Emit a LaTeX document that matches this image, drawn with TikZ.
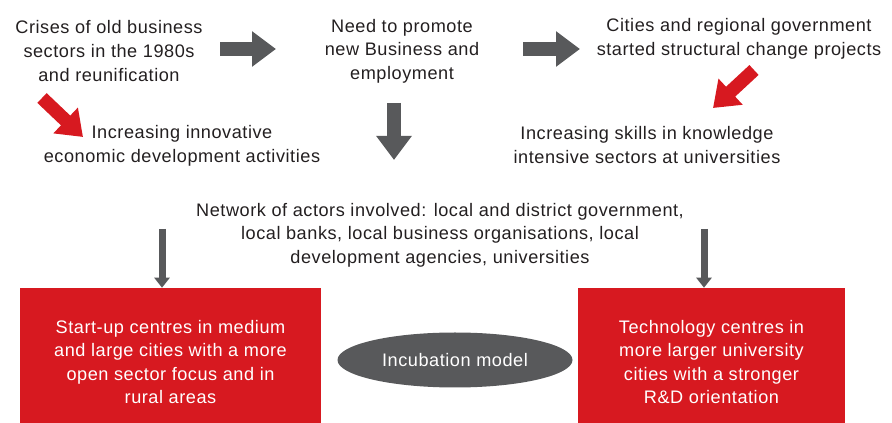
\documentclass[tikz,border=0pt]{standalone}
\usepackage{fontspec}
\setmainfont{Liberation Sans}[LetterSpace=3]
\usetikzlibrary{arrows.meta,shapes.geometric}
\definecolor{incred}{RGB}{215,25,32}
\definecolor{incgray}{RGB}{88,89,91}
\definecolor{inctext}{RGB}{35,31,32}
\tikzset{
  label text/.style={align=center, text=inctext, inner sep=0pt,
    font=\fontsize{13.6}{17.7}\selectfont},
  block arrow/.style={line width=10.1pt,
    -{Triangle[width=25.5pt, length=18pt]}},
  thin arrow/.style={draw=incgray, line width=5.25pt,
    -{Triangle[width=11.25pt, length=7.5pt]}},
  centre box/.style={fill=incred, text=white, align=center,
    minimum height=111pt, font=\fontsize{13.6}{17.7}\selectfont}
}
\begin{document}
\begin{tikzpicture}
\begin{scope}[x=0.75pt, y=-0.75pt]
  % Fix the page to the size of the picture.
  \clip (0, 0) rectangle (892, 423);
  % Label the first row of causes.
  \node[label text] (crises) at (109, 51)
    {Crises of old business\\sectors in the 1980s\\and reunification};
  \node[label text] (promote) at (402, 51)
    {Need to promote\\new Business and\\employment};
  \node[label text] (cities) at (739, 39)
    {Cities and regional government\\started structural change projects};
  % Label the second row of effects.
  \node[label text] (innovative) at (182, 146)
    {Increasing innovative\\economic development activities};
  \node[label text] (skills) at (647, 145)
    {Increasing skills in knowledge\\intensive sectors at universities};
  \node[label text] (network) at (440, 235)
    {Network of actors involved: local and district government,\\local
    banks, local business organisations, local\\development agencies,
    universities};
  % Draw the two kinds of centres and the model between them.
  \node[centre box, minimum width=225.75pt] (startup) at (170.5, 362)
    {Start-up centres in medium\\and large cities with a more\\open sector
    focus and in\\rural areas};
  \node[centre box, minimum width=200.25pt] (technology) at (711.5, 362)
    {Technology centres in\\more larger university\\cities with a
    stronger\\R\&D orientation};
  \node[ellipse, fill=incgray, text=white, inner sep=0pt,
    minimum width=176.25pt, minimum height=41.25pt,
    font=\fontsize{13.6}{17.7}\selectfont] (model) at (455, 360)
    {Incubation model};
  % Ends of the block arrows.
  \coordinate (crises out) at (220, 49);
  \coordinate (promote in) at (276, 49);
  \coordinate (promote out) at (523, 49);
  \coordinate (cities in) at (580, 49);
  \coordinate (promote down) at (394, 103);
  \coordinate (network in) at (394, 160);
  \coordinate (crises down) at (42, 98);
  \coordinate (innovative in) at (83, 137);
  \coordinate (cities down) at (754, 70);
  \coordinate (skills in) at (713, 108);
  \coordinate (network left) at (162, 229);
  \coordinate (network right) at (704, 229);
  % Draw the arrows.
  \draw[block arrow, incgray] (crises out) -- (promote in);
  \draw[block arrow, incgray] (promote out) -- (cities in);
  \draw[block arrow, incgray] (promote down) -- (network in);
  \draw[block arrow, incred] (crises down) -- (innovative in);
  \draw[block arrow, incred] (cities down) -- (skills in);
  \draw[thin arrow] (network left) -- (network left |- startup.north);
  \draw[thin arrow] (network right) -- (network right |- technology.north);
\end{scope}
\end{tikzpicture}
\end{document}
